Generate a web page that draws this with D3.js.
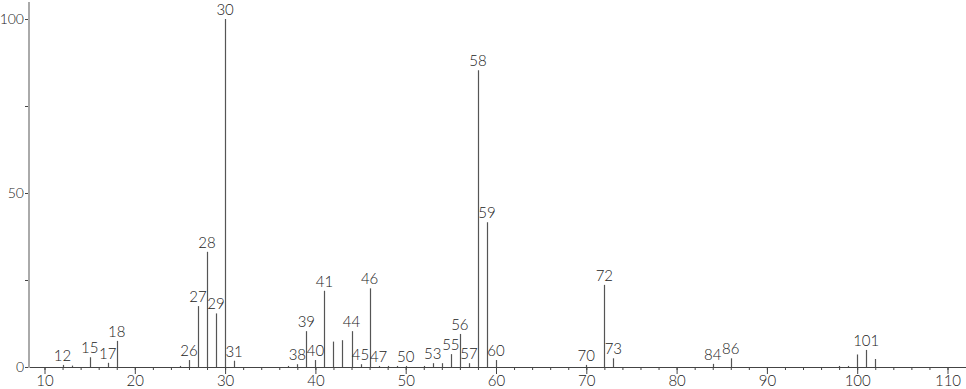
<!DOCTYPE html>
<html>
<head>
<meta charset="utf-8">
<script src="https://cdn.jsdelivr.net/npm/d3@7"></script>
<style>
  body { margin: 0; background: #fff; }
  svg text { font-family: Lato, "Open Sans", sans-serif; font-size: 14px; font-weight: 300; fill: #222; }
</style>
</head>
<body>
<div id="chart"></div>
<script>
// m/z values and relative intensities
var mz = [12, 13, 15, 17, 18, 25, 26, 27, 28, 29, 30, 31, 37, 38, 39, 40, 41, 42, 43, 44, 45, 46, 47, 48, 49, 50, 52, 53, 54, 55, 56, 57, 58, 59, 60, 70, 72, 73, 84, 86, 98, 99, 100, 101, 102];
var intensity = [0.6, 0.4, 2.8, 1.2, 7.5, 0.3, 2.0, 17.5, 33.1, 15.4, 100, 1.8, 0.3, 0.8, 10.3, 2.0, 21.9, 7.3, 7.7, 10.3, 0.8, 22.6, 0.3, 0.3, 0.3, 0.3, 0.3, 1.1, 1.1, 3.7, 9.5, 1.1, 85.3, 41.6, 2.0, 0.6, 23.6, 2.5, 0.9, 2.5, 0.3, 0.3, 3.6, 4.9, 2.3];
var labelled = [12, 15, 17, 18, 26, 27, 28, 29, 30, 31, 38, 39, 40, 41, 44, 45, 46, 47, 50, 53, 55, 56, 57, 58, 59, 60, 70, 72, 73, 84, 86, 101];
var xTicks = [10, 20, 30, 40, 50, 60, 70, 80, 90, 100, 110];
var yTicks = [0, 50, 100];

var width = 966, height = 389;

var x = d3.scaleLinear().domain([10, 110]).range([44.5, 947.5]);
var y = d3.scaleLinear().domain([0, 100]).range([367, 19]);

var svg = d3.select('#chart').append('svg')
	.attr('width', width)
	.attr('height', height);

var peaks = mz.map(function(m, i) { return {mz: m, val: intensity[i]}; });

// peak sticks
svg.append('g')
	.attr('class', 'peaks')
	.selectAll('line')
	.data(peaks)
	.enter()
	.append('line')
	.attr('x1', function(d) { return Math.round(x(d.mz)) + 0.5; })
	.attr('x2', function(d) { return Math.round(x(d.mz)) + 0.5; })
	.attr('y1', y(0))
	.attr('y2', function(d) { return y(d.val); })
	.style('stroke', '#555')
	.style('stroke-width', 1.2);

// x axis: minor ticks every 2, major every 10
var xMinor = d3.axisBottom(x)
	.tickValues(d3.range(10, 112, 2))
	.tickSize(3)
	.tickFormat('');

var xMajor = d3.axisBottom(x)
	.tickValues(xTicks)
	.tickSize(7)
	.tickPadding(1)
	.tickFormat(d3.format('d'));

var gx = svg.append('g').attr('transform', 'translate(0,' + y(0) + ')');
gx.call(xMinor);
gx.select('.domain').remove();
var gx2 = svg.append('g').attr('transform', 'translate(0,' + y(0) + ')');
gx2.call(xMajor);
gx2.select('.domain').remove();
svg.selectAll('.tick line').style('stroke', '#444');
gx2.selectAll('text').style('fill', '#222').style('font-size', '15px');

svg.append('line')
	.attr('x1', 29).attr('x2', width)
	.attr('y1', y(0) + 0.5).attr('y2', y(0) + 0.5)
	.style('stroke', '#444');

// y axis
var gy = svg.append('g').attr('transform', 'translate(29,0)');
gy.call(d3.axisLeft(y).tickValues([0, 25, 50, 75, 100]).tickSize(4).tickPadding(1)
	.tickFormat(function(d) { return yTicks.indexOf(d) >= 0 ? d : ''; }));
gy.select('.domain').remove();
gy.selectAll('.tick line').style('stroke', '#444');
gy.selectAll('text').style('fill', '#222').style('font-size', '14px');

svg.append('line')
	.attr('x1', 29).attr('x2', 29)
	.attr('y1', 2).attr('y2', y(0) + 1)
	.style('stroke', '#aaa')
	.style('stroke-width', 2);

// peak labels
svg.append('g')
	.attr('class', 'labels')
	.selectAll('text')
	.data(peaks.filter(function(d) { return labelled.indexOf(d.mz) >= 0; }))
	.enter()
	.append('text')
	.attr('x', function(d) { return x(d.mz); })
	.attr('y', function(d) { return Math.min(y(d.val) - 4, 362); })
	.attr('text-anchor', 'middle')
	.style('font-size', '15px')
	.text(function(d) { return d.mz; });
</script>
</body>
</html>
